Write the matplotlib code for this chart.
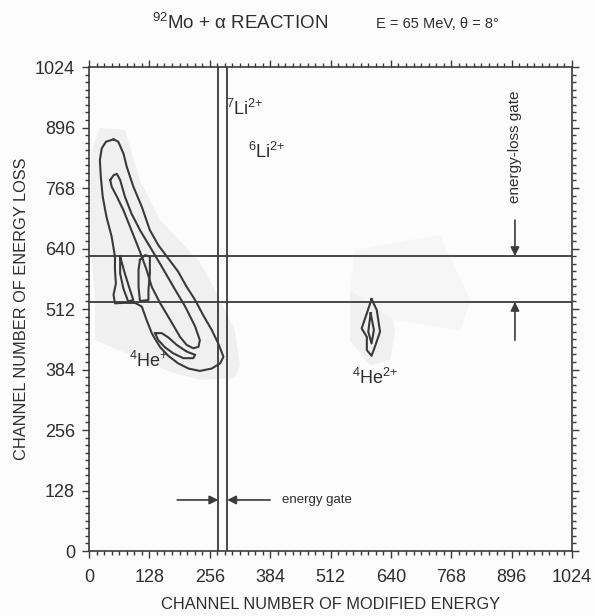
import numpy as np
import matplotlib
matplotlib.use("Agg")
import matplotlib.pyplot as plt
from matplotlib.ticker import MultipleLocator

plt.rcParams['font.family'] = ['Liberation Sans', 'DejaVu Sans']
plt.rcParams['mathtext.fontset'] = 'custom'
plt.rcParams['mathtext.rm'] = 'Liberation Sans'

# Konturlinien (Kanal Energie, Kanal Energieverlust)
he1_outer = [(52, 871), (62, 866), (73, 841), (80, 813), (94, 771), (112, 728), (129, 679),
             (147, 647), (168, 619), (189, 591), (207, 559), (225, 531), (242, 499), (260, 468),
             (274, 439), (285, 411), (278, 397), (260, 386), (235, 381), (211, 386), (189, 397),
             (168, 413), (151, 431), (138, 452), (133, 461), (122, 489), (112, 517), (98, 525),
             (73, 525), (55, 524), (52, 542), (57, 566), (55, 595), (55, 623), (48, 665),
             (37, 707), (29, 750), (25, 792), (23, 827), (27, 852), (36, 866)]
he1_inner = [(45, 785), (52, 795), (59, 798), (66, 785), (76, 750), (90, 714), (108, 679),
             (129, 644), (154, 602), (179, 559), (204, 517), (225, 475), (235, 446), (232, 432),
             (221, 429), (207, 436), (193, 453), (172, 489), (151, 524), (133, 559), (122, 595),
             (112, 623), (101, 651), (87, 686), (73, 721), (59, 750), (48, 771)]
he1_lobe_a = [(108, 616), (119, 626), (129, 623), (129, 587), (126, 552), (126, 531),
              (108, 529), (105, 559), (105, 595)]
he1_lobe_b = [(66, 623), (76, 587), (87, 552), (94, 531), (83, 528), (73, 555), (66, 587)]
he1_hook = [(140, 461), (154, 461), (168, 452), (186, 436), (207, 422), (225, 415), (221, 408),
            (200, 408), (179, 418), (161, 431), (147, 446)]
he2_outer = [(599, 533), (610, 510), (617, 464), (606, 432), (599, 413), (589, 425),
             (589, 453), (578, 471), (589, 503)]
he2_inner = [(597, 503), (604, 468), (599, 439), (592, 464)]

# schwache Bereiche (wenige Ereignisse)
faint_he1 = [(23, 895), (76, 891), (108, 785), (151, 700), (235, 611), (267, 552), (309, 467),
             (320, 393), (309, 366), (235, 362), (172, 379), (87, 415), (13, 446), (13, 531),
             (6, 616), (2, 743), (6, 848)]
faint_he2 = [(553, 552), (628, 563), (649, 467), (638, 404), (596, 393), (553, 446)]
faint_mid = [(564, 637), (744, 669), (808, 531), (787, 467), (649, 488), (553, 552)]

energy_gate = [274, 293]
eloss_gate = [527, 624]

dark = '#3a3a3a'
txt = '#2e2e2e'

fig = plt.figure(figsize=(5.95, 6.16), dpi=100, facecolor='#fcfcfc')
ax = fig.add_axes([0.1496, 0.1055, 0.8118, 0.7857])
ax.set_facecolor('#fcfcfc')

for poly, c in [(faint_he1, '#f0f0f0'), (faint_he2, '#f0f0f0'), (faint_mid, '#f6f6f6')]:
    p = np.array(poly)
    ax.fill(p[:, 0], p[:, 1], color=c, lw=0)

for poly in [he1_outer, he1_inner, he1_lobe_a, he1_lobe_b, he1_hook, he2_outer, he2_inner]:
    p = np.array(poly + [poly[0]])
    ax.plot(p[:, 0], p[:, 1], color=dark, lw=1.5)

for g in energy_gate:
    ax.axvline(g, color=dark, lw=1.3)
for g in eloss_gate:
    ax.axhline(g, color=dark, lw=1.3)

ax.set_xlim(0, 1024)
ax.set_ylim(0, 1024)
ax.xaxis.set_major_locator(MultipleLocator(128))
ax.yaxis.set_major_locator(MultipleLocator(128))
ax.xaxis.set_minor_locator(MultipleLocator(16))
ax.yaxis.set_minor_locator(MultipleLocator(16))
ax.tick_params(which='both', direction='out', top=True, right=True, color=dark, width=1.0)
ax.tick_params(which='major', length=5, labelsize=13, labelcolor=txt)
ax.tick_params(which='minor', length=3)
ax.tick_params(axis='x', which='major', pad=8)
ax.tick_params(axis='y', which='major', pad=5)
for s in ax.spines.values():
    s.set_color(dark)
    s.set_linewidth(1.2)

ax.set_xlabel('CHANNEL NUMBER OF MODIFIED ENERGY', fontsize=11.8, color=txt, labelpad=8)
ax.set_ylabel('CHANNEL NUMBER OF ENERGY LOSS', fontsize=11.8, color=txt, labelpad=4)

# Beschriftungen
ax.text(290, 935, r'$^{7}$Li$^{2{+}}$', fontsize=13, color=txt, va='center')
ax.text(336, 845, r'$^{6}$Li$^{2{+}}$', fontsize=13, color=txt, va='center')
ax.text(84, 402, r'$^{4}$He$^{{+}}$', fontsize=13, color=txt, va='center')
ax.text(558, 366, r'$^{4}$He$^{2{+}}$', fontsize=13, color=txt, va='center')
ax.text(903, 855, 'energy-loss gate', rotation=90, fontsize=11, color=txt,
        ha='center', va='center')
ax.text(409, 108, 'energy gate', fontsize=9.5, color=txt, va='center')

arrow = dict(arrowstyle='-|>', color=dark, lw=1.2, mutation_scale=13, shrinkA=0, shrinkB=0)
ax.annotate('', xy=(903, eloss_gate[1]), xytext=(903, 700), arrowprops=arrow)
ax.annotate('', xy=(903, eloss_gate[0]), xytext=(903, 446), arrowprops=arrow)
ax.annotate('', xy=(energy_gate[0], 108), xytext=(187, 108), arrowprops=arrow)
ax.annotate('', xy=(energy_gate[1], 108), xytext=(384, 108), arrowprops=arrow)

fig.text(0.403, 0.963, r'$^{92}$Mo + α REACTION', fontsize=13.5, color=txt,
         ha='center', va='center')
fig.text(0.736, 0.961, 'E = 65 MeV, θ = 8°', fontsize=10.5, color=txt,
         ha='center', va='center')

fig.savefig('out.png', dpi=100, facecolor=fig.get_facecolor())
